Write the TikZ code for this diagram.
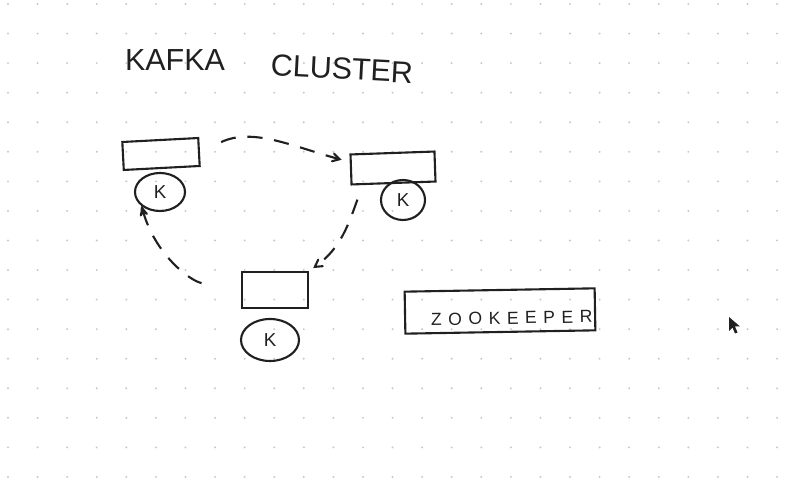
\documentclass[tikz,border=0pt]{standalone}
\usepackage{fontspec}
\setmainfont{Liberation Sans}
\newfontfamily\zkfont[LetterSpace=37]{Liberation Sans}
\usetikzlibrary{arrows,shapes.geometric}
\definecolor{ink}{RGB}{32,32,32}
\definecolor{dot}{RGB}{200,200,200}
\tikzstyle{title} = [inner sep=0pt, text=ink, font=\fontsize{26}{30}\selectfont]
\tikzstyle{partition} = [rectangle, draw=ink, line width=1.8pt, inner sep=0pt]
\tikzstyle{kbroker} = [ellipse, draw=ink, line width=1.8pt, inner sep=0pt,
text=ink, font=\fontsize{16}{18}\selectfont]
\tikzstyle{repl} = [->, draw=ink, line width=1.8pt, dash pattern=on 13pt off 10pt]

\begin{document}
\begin{tikzpicture}[>=angle 60, x=0.03cm, y=0.03cm]
    \useasboundingbox (0,0) rectangle (788,480);
    % dotted paper
    \foreach \i in {0,...,26}
      \foreach \j in {0,...,16}
        \fill[dot] ({8+29.58*\i},{476-29.56*\j}) circle (1.1);

    \node[title]            (kafka)   at (175,420) {KAFKA};
    \node[title, rotate=-3] (cluster) at (342,411) {CLUSTER};

    \node[partition, minimum width=2.28cm, minimum height=0.84cm, rotate=3] (p1) at (161,326) {};
    \node[kbroker, minimum width=1.5cm, minimum height=1.14cm]   (k1) at (160,288) {K};
    \node[partition, minimum width=2.52cm, minimum height=0.9cm, rotate=2]  (p2) at (393,312) {};
    \node[kbroker, minimum width=1.32cm, minimum height=1.2cm]   (k2) at (403,280) {K};
    \node[partition, minimum width=1.98cm, minimum height=1.08cm]           (p3) at (275,190) {};
    \node[kbroker, minimum width=1.74cm, minimum height=1.26cm]  (k3) at (270,140) {K};

    \node[partition, minimum width=5.7cm, minimum height=1.26cm, rotate=1, text=ink,
      font=\zkfont\fontsize{15}{18}\selectfont] (zk) at (500,169)
      {\hspace*{0.7cm}\raisebox{-0.4cm}[0pt][0pt]{ZOOKEEPER}};

    \draw[repl, shorten <=0.7cm, shorten >=0.25cm] (p1.east) to[out=25, in=165] (p2.170);
    \draw[repl, shorten <=0.45cm, shorten >=0.15cm] ([xshift=0.36cm]p2.south west) to[out=-110, in=35] (p3.north east);
    \draw[repl, -stealth', shorten <=1.2cm] (p3.west) to[out=170, in=-75] (k1.south west);

    % mouse pointer
    \fill[ink] (729,163) -- (729,149) -- (732.5,152.5) -- (735,146.5) -- (737.5,147.5)
      -- (735,153.5) -- (740,153.5) -- cycle;
\end{tikzpicture}
\end{document}
